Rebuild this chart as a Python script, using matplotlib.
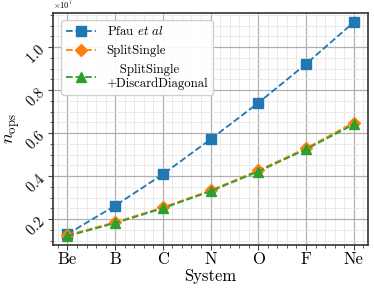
import numpy as np
import matplotlib
matplotlib.use("Agg")
import matplotlib.pyplot as plt
from matplotlib.ticker import AutoMinorLocator, MultipleLocator

plt.rcParams['font.family'] = 'serif'
plt.rcParams['font.serif'] = ['cmr10']
plt.rcParams['mathtext.fontset'] = 'cm'
plt.rcParams['axes.formatter.use_mathtext'] = True

systems = ['Be', 'B', 'C', 'N', 'O', 'F', 'Ne']
pfau = [0.130e7, 0.262e7, 0.408e7, 0.571e7, 0.740e7, 0.921e7, 1.115e7]
split_single = [0.125e7, 0.185e7, 0.254e7, 0.333e7, 0.426e7, 0.529e7, 0.648e7]
split_discard = [0.121e7, 0.181e7, 0.250e7, 0.329e7, 0.421e7, 0.524e7, 0.640e7]

x = np.arange(len(systems))

fig = plt.figure(figsize=(3.74, 2.9), dpi=100)
ax = fig.add_axes([0.142, 0.155, 0.842, 0.80])

ax.plot(x, pfau, color='#1f77b4', linestyle='--', linewidth=1.3, marker='s', ms=6.5,
        label=r'Pfau $et\ al$')
ax.plot(x, split_single, color='#ff7f0e', linestyle='--', linewidth=1.3, marker='D', ms=6.5,
        label='SplitSingle')
ax.plot(x, split_discard, color='#2ca02c', linestyle='--', linewidth=1.3, marker='^', ms=6.5,
        label='   SplitSingle\n+DiscardDiagonal')

ax.set_xlim(-0.3, 6.3)
ax.set_ylim(0.079e7, 1.158e7)
ax.set_xticks(x)
ax.set_xticklabels(systems, fontsize=12)
ax.xaxis.set_minor_locator(AutoMinorLocator(5))
ax.yaxis.set_major_locator(MultipleLocator(0.2e7))
ax.yaxis.set_minor_locator(MultipleLocator(0.05e7))
ax.ticklabel_format(axis='y', style='sci', scilimits=(7, 7), useMathText=True)
ax.yaxis.get_offset_text().set_fontsize(6)
ax.tick_params(axis='x', which='both', color='#444444', pad=1.5)
ax.tick_params(axis='y', which='both', color='#444444', pad=4)
fig.canvas.draw()
for t in ax.get_yticklabels():
    t.set_rotation(45)
    t.set_rotation_mode('anchor')
    t.set_ha('right')
    t.set_va('center')
    t.set_fontsize(10.5)

ax.grid(which='major', color='#b0b0b0', linewidth=0.9)
ax.grid(which='minor', color='#e6e6e6', linewidth=0.6)
for s in ax.spines.values():
    s.set_color('#333333')
    s.set_linewidth(1.2)

ax.set_xlabel('System', fontsize=12, labelpad=1)
ax.set_ylabel(r'$n_{\rm ops}$', fontsize=13)
ax.yaxis.set_label_coords(-0.10, 0.5)

leg = ax.legend(loc='upper left', fontsize=9.2, handlelength=2.3, framealpha=0.9,
                borderaxespad=0, labelspacing=0.55, handletextpad=0.85, borderpad=0.4,
                bbox_to_anchor=(0.026, 0.97))
leg.get_texts()[2].set_multialignment('left')
leg.get_texts()[2].set_linespacing(1.05)

fig.savefig('out.png', dpi=100)
